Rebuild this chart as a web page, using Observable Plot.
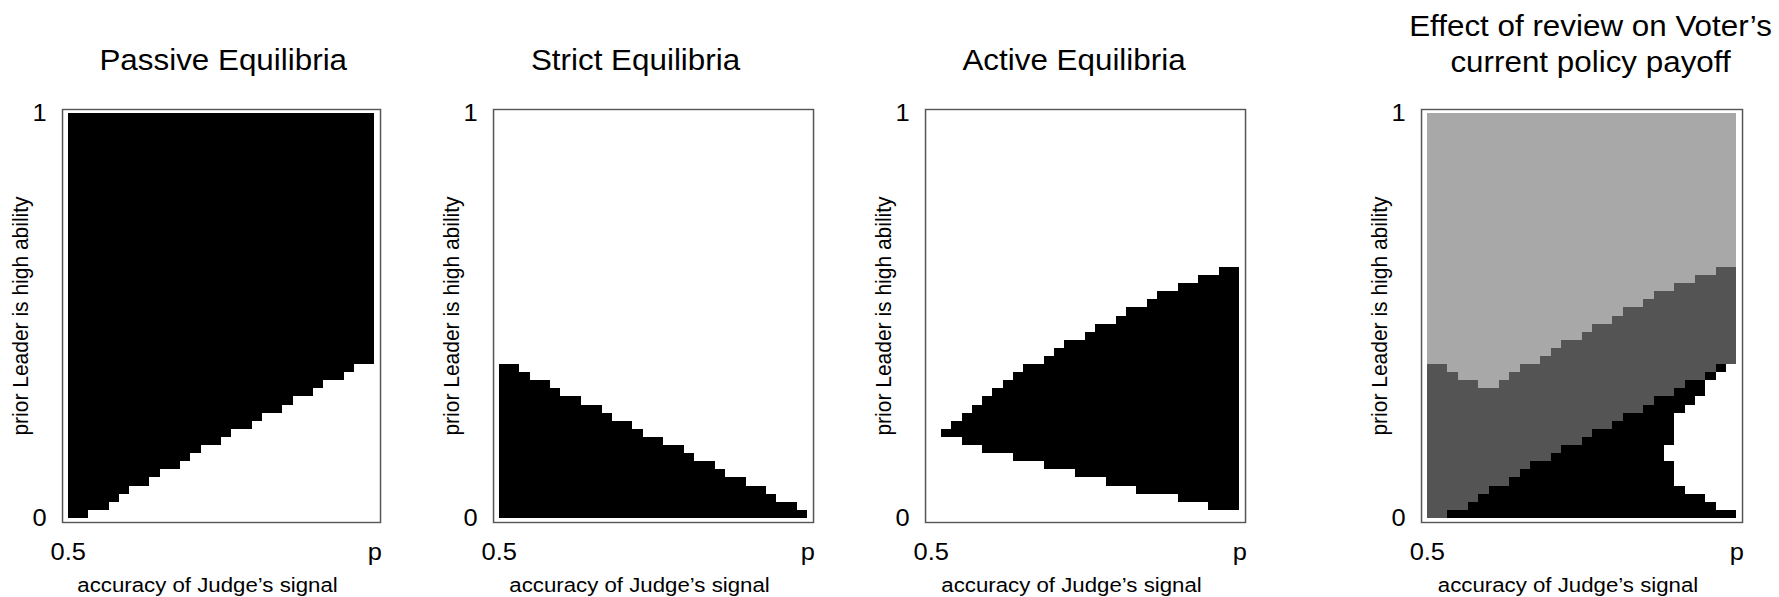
<!DOCTYPE html>
<html><head><meta charset="utf-8">
<script src="https://cdn.jsdelivr.net/npm/d3@7"></script>
<script src="https://cdn.jsdelivr.net/npm/@observablehq/plot@0.6"></script>
<style>
html,body{margin:0;padding:0;background:#fff;}
#chart{position:relative;width:1779px;height:597px;overflow:hidden;background:#fff;}
#chart svg{position:absolute;top:0;}
</style></head><body><div id="chart"></div>
<script>
// ---- texts ----
const titles = ["Passive Equilibria", "Strict Equilibria", "Active Equilibria", "Effect of review on Voter’s\ncurrent policy payoff"];
const xLabel = "accuracy of Judge’s signal";
const yLabel = "prior Leader is high ability";
const xTickValues = [0, 30];
const xTickLabels = ["0.5", "p"];
const yTickValues = [0, 50];
const yTickLabels = ["0", "1"];

// ---- data: 30 columns (signal accuracy), 50 rows (prior) ----
// Passive: black from this row up to the top
const passiveFrom = [0,0,1,1,2,3,4,4,5,6,6,7,8,9,9,10,11,11,12,13,13,14,15,15,16,17,17,18,19,19];
// Strict: black from bottom up to this row
const strictTo = [19,19,18,17,17,16,15,15,14,14,13,12,12,11,10,10,9,9,8,7,7,6,5,5,4,4,3,2,2,1];
// Active: black between these rows
const activeFrom = [0,10,10,9,9,8,8,8,7,7,7,6,6,6,5,5,5,4,4,4,3,3,3,3,2,2,2,1,1,1];
const activeTo   = [0,11,12,13,14,15,16,17,18,19,19,20,21,22,22,23,24,24,25,26,26,27,28,28,29,29,30,30,31,31];
// Effect on payoff: light gray from lightFrom up, dark gray from darkFrom to lightFrom,
// black below darkFrom except a white gap [whiteFrom, whiteTo)
const effectLightFrom = [19,19,18,17,17,16,16,17,18,19,19,20,21,22,22,23,24,24,25,26,26,27,28,28,29,29,30,30,31,31];
const effectDarkFrom  = [0,0,1,1,2,3,4,4,5,6,7,7,8,9,9,10,11,11,12,13,13,14,15,15,16,17,17,18,19,19];
const effectWhiteFrom = [0,0,0,0,0,0,0,0,0,0,0,0,0,0,0,0,0,0,0,0,0,0,0,7,4,3,3,2,1,1];
const effectWhiteTo   = [0,0,0,0,0,0,0,0,0,0,0,0,0,0,0,0,0,0,0,0,0,0,0,9,13,14,15,17,18,19];
const effectLevels = ["light", "dark", "black"];
const effectColors = ["#a8a8a8", "#545454", "#000000"];

// ---- build cells ----
const cols = d3.range(30);
const cells1 = cols.map(i => ({x1: i, x2: i + 1, y1: passiveFrom[i], y2: 50, level: "black"}));
const cells2 = cols.map(i => ({x1: i, x2: i + 1, y1: 0, y2: strictTo[i], level: "black"}));
const cells3 = cols.filter(i => activeTo[i] > activeFrom[i]).map(i => ({x1: i, x2: i + 1, y1: activeFrom[i], y2: activeTo[i], level: "black"}));
const cells4 = [];
for (const i of cols) {
  const wf = effectWhiteFrom[i], wt = effectWhiteTo[i], df = effectDarkFrom[i], lf = effectLightFrom[i];
  if (wt > wf) {
    if (wf > 0) cells4.push({x1: i, x2: i + 1, y1: 0, y2: wf, level: "black"});
    if (df > wt) cells4.push({x1: i, x2: i + 1, y1: wt, y2: df, level: "black"});
  } else if (df > 0) {
    cells4.push({x1: i, x2: i + 1, y1: 0, y2: df, level: "black"});
  }
  if (lf > df) cells4.push({x1: i, x2: i + 1, y1: df, y2: lf, level: "dark"});
  cells4.push({x1: i, x2: i + 1, y1: lf, y2: 50, level: "light"});
}
const allCells = [cells1, cells2, cells3, cells4];

// ---- layout ----
const S = 1.06; // slight horizontal stretch of the original figure
const frames = [[62, 380], [493, 813], [925, 1245], [1421, 1742]];
const titleDx = [1.7, -18, -11.5, 8.5];
const titleDy = [-40, -40, -40, -38];
const chart = document.getElementById("chart");

frames.forEach(([fl, fr], i) => {
  const left = fl - 60;
  const Wa = i === 3 ? 1779 - left : (fr - fl) + 100;
  const mr = Wa - 60 - (fr - fl);
  const svg = Plot.plot({
    width: Wa / S,
    height: 597,
    marginLeft: 60 / S,
    marginRight: mr / S,
    marginTop: 109,
    marginBottom: 75,
    style: {fontFamily: "'Liberation Sans', Arial, Helvetica, sans-serif", fontSize: "24px", color: "black", background: "white", overflow: "visible"},
    x: {domain: [-0.56, 30.56], ticks: xTickValues, tickFormat: d => xTickLabels[xTickValues.indexOf(d)], tickSize: 0, tickPadding: 20, label: null},
    y: {domain: [-0.5, 50.5], ticks: yTickValues, tickFormat: d => yTickLabels[yTickValues.indexOf(d)], tickSize: 0, tickPadding: 16 / S, label: null},
    color: {domain: effectLevels, range: effectColors},
    marks: [
      Plot.rect(allCells[i], {x1: "x1", x2: "x2", y1: "y1", y2: "y2", fill: "level", shapeRendering: "crispEdges"}),
      Plot.frame({stroke: "#555", strokeWidth: 1.4}),
      Plot.text([titles[i]], {text: d => d, frameAnchor: "top", lineAnchor: "bottom", dy: titleDy[i], dx: titleDx[i] / S, fontSize: 29.6, lineHeight: 1.2}),
      Plot.text([xLabel], {text: d => d, frameAnchor: "bottom", lineAnchor: "bottom", dy: 69, dx: -14 / S, fontSize: 21}),
      Plot.text([yLabel], {text: d => d, frameAnchor: "left", textAnchor: "middle", rotate: -90, dx: -42 / S, fontSize: 21})
    ]
  });
  svg.setAttribute("width", Wa);
  svg.setAttribute("preserveAspectRatio", "none");
  svg.style.width = Wa + "px";
  svg.style.height = "597px";
  svg.style.maxWidth = "none";
  svg.style.left = left + "px";
  chart.appendChild(svg);
});
</script></body></html>
